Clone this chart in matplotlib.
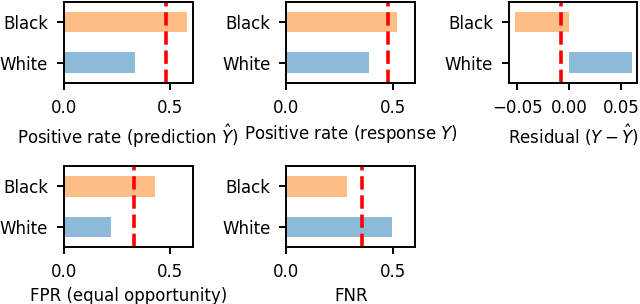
import numpy as np
from matplotlib import pyplot as plt

groups = ['Black', 'White']
colors = ['tab:orange', 'tab:blue']

pos_pred = [0.578, 0.333]
pos_resp = [0.520, 0.389]
residual = [-0.0526, 0.0603]
fpr = [0.426, 0.220]
fnr = [0.285, 0.495]

# overall (population) values, drawn as dashed red lines
overall = [0.481, 0.477, -0.0077, 0.330, 0.354]

labels = [r'Positive rate (prediction $\hat{Y}$)',
          r'Positive rate (response $Y$)',
          r'Residual ($Y - \hat{Y}$)',
          'FPR (equal opportunity)',
          'FNR']

plt.rcParams.update({'font.family': 'DejaVu Sans',
                     'font.size': 12,
                     'axes.linewidth': 1.4,
                     'xtick.major.size': 5,
                     'ytick.major.size': 5,
                     'xtick.major.width': 1.4,
                     'ytick.major.width': 1.4,
                     'xtick.major.pad': 6.5,
                     'ytick.major.pad': 6.5})

fig, axes = plt.subplots(2, 3, figsize=(6.4, 3.04), dpi=100)
plt.subplots_adjust(left=0.1, right=0.996, top=0.993, bottom=0.188,
                    wspace=0.73, hspace=1.04)
axes = axes.ravel()

values = [pos_pred, pos_resp, residual, fpr, fnr]
for i, (ax, vals) in enumerate(zip(axes, values)):
    y = np.arange(len(groups))
    ax.barh(y, vals, height=0.5, color=colors, alpha=0.5)
    ax.axvline(overall[i], color='red', linestyle='--', linewidth=2.6)
    ax.set_yticks(y)
    ax.set_yticklabels(groups)
    ax.set_ylim(1.5, -0.5)
    ax.set_xlabel(labels[i], labelpad=4.5)
    if i != 2:
        ax.set_xlim(0, 0.605)
        ax.set_xticks([0.0, 0.5])
    else:
        ax.set_xticks([-0.05, 0.0, 0.05])

axes[5].axis('off')

plt.savefig('out.png', dpi=100)
